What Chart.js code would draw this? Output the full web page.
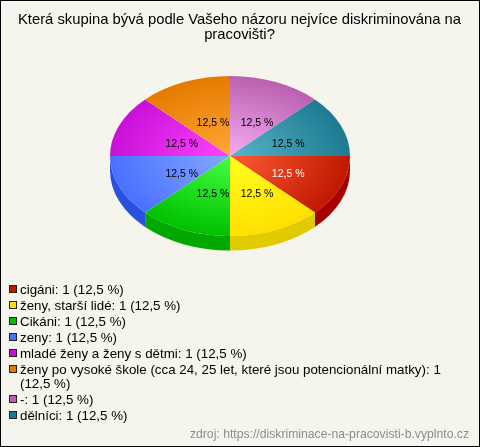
<!DOCTYPE html>
<html><head><meta charset="utf-8">
<style>html,body{margin:0;padding:0;background:#F5F5EE}canvas{display:block}</style>
<script src="https://cdn.jsdelivr.net/npm/chart.js@4"></script>
</head><body><canvas id="c" width="480" height="447" style="width:480px;height:447px"></canvas>
<script>
const titleLines = ["Která skupina bývá podle Vašeho názoru nejvíce diskriminována na", "pracovišti?"];
const categories = ["cigáni", "ženy, starší lidé", "Cikáni", "zeny", "mladé ženy a ženy s dětmi", "ženy po vysoké škole (cca 24, 25 let, které jsou potencionální matky)", "-", "dělníci"];
const counts = [1, 1, 1, 1, 1, 1, 1, 1];
const percentLabels = ["12,5 %", "12,5 %", "12,5 %", "12,5 %", "12,5 %", "12,5 %", "12,5 %", "12,5 %"];
const edgeColors = ["#C01800", "#FFE000", "#00C000", "#4A70FF", "#C810D8", "#E67A00", "#BB60B0", "#1E7A90"];
const centerColors = ["#FF5C34", "#FFFF20", "#44FF44", "#84A8FF", "#FF44FF", "#FFA834", "#F4ACF4", "#58B4C8"];
const sideColors = ["#A80000", "#E2CA00", "#00A800", "#2A50E0", "#A80000", "#A80000", "#A80000", "#A80000"];
const labelColors = ["#FFFFFF", "#000000", "#000000", "#000000", "#000000", "#000000", "#000000", "#000000"];
const sourceText = "zdroj: https://diskriminace-na-pracovisti-b.vyplnto.cz";
const FONT = "'Liberation Sans', Arial, sans-serif";
const SQUASH = 2 / 3, DEPTH = 14.5;

const pie3d = {
  id: "pie3d",
  beforeDraw(chart) {
    const c = chart.ctx;
    c.save();
    c.fillStyle = "#F5F5EE";
    c.fillRect(0, 0, chart.width, chart.height);
    c.fillStyle = "#000";
    c.font = "14.8px " + FONT;
    c.textAlign = "center";
    c.textBaseline = "middle";
    titleLines.forEach((t, i) => c.fillText(t, 239.5, 20 + i * 15));
    c.restore();
  },
  beforeDatasetsDraw(chart) {
    const c = chart.ctx, arcs = chart.getDatasetMeta(0).data;
    c.save();
    arcs.forEach((a, i) => {
      const s = Math.max(a.startAngle, 0), e = Math.min(a.endAngle, Math.PI);
      if (e <= s) return;
      c.beginPath();
      c.ellipse(a.x, a.y, a.outerRadius, a.outerRadius * SQUASH, 0, s, e);
      c.ellipse(a.x, a.y + DEPTH, a.outerRadius, a.outerRadius * SQUASH, 0, e, s, true);
      c.closePath();
      c.fillStyle = sideColors[i];
      c.fill();
    });
    c.restore();
    const a0 = arcs[0];
    c.save();
    c.translate(a0.x, a0.y);
    c.scale(1, SQUASH);
    c.translate(-a0.x, -a0.y);
  },
  afterDatasetsDraw(chart) {
    const c = chart.ctx, arcs = chart.getDatasetMeta(0).data;
    c.restore();
    c.save();
    c.font = "10.5px " + FONT;
    c.textAlign = "center";
    c.textBaseline = "middle";
    arcs.forEach((a, i) => {
      const m = (a.startAngle + a.endAngle) / 2, r = a.outerRadius * 0.48;
      c.fillStyle = labelColors[i];
      c.fillText(percentLabels[i], a.x + r * Math.cos(m) + 5, a.y + r * SQUASH * Math.sin(m) + 3);
    });
    c.restore();
  },
  afterDraw(chart) {
    const c = chart.ctx;
    const total = counts.reduce((p, v) => p + v, 0);
    c.save();
    c.font = "13.33px " + FONT;
    c.textBaseline = "middle";
    c.textAlign = "left";
    let y = 290;
    categories.forEach((name, i) => {
      c.fillStyle = edgeColors[i];
      c.fillRect(9.5, y - 4.5, 7, 7);
      c.strokeStyle = "#222";
      c.lineWidth = 1;
      c.strokeRect(9.5, y - 4.5, 7, 7);
      c.fillStyle = "#000";
      const pct = (counts[i] / total * 100).toFixed(1).replace(".", ",") + " %";
      const full = name + ": " + counts[i] + " (" + pct + ")";
      if (c.measureText(full).width > 440) {
        const cut = full.lastIndexOf(" (");
        c.fillText(full.slice(0, cut), 20, y);
        y += 14;
        c.fillText(full.slice(cut + 1), 20, y);
      } else {
        c.fillText(full, 20, y);
      }
      y += 16;
    });
    c.font = "12.2px " + FONT;
    c.fillStyle = "#8C8C8C";
    c.textAlign = "right";
    c.fillText(sourceText, 469, 435);
    c.strokeStyle = "#000";
    c.lineWidth = 1;
    c.strokeRect(0.5, 0.5, chart.width - 1, chart.height - 1);
    c.restore();
  }
};

new Chart(document.getElementById("c"), {
  type: "pie",
  data: {
    labels: categories,
    datasets: [{
      data: counts,
      borderWidth: 0,
      backgroundColor(ctx) {
        const area = ctx.chart.chartArea, i = ctx.dataIndex;
        if (!area) return edgeColors[i];
        const cx = (area.left + area.right) / 2, cy = (area.top + area.bottom) / 2, r = area.width / 2;
        const g = ctx.chart.ctx.createRadialGradient(cx, cy, 0, cx, cy, r);
        g.addColorStop(0, centerColors[i]);
        g.addColorStop(1, edgeColors[i]);
        return g;
      }
    }]
  },
  options: {
    responsive: false,
    devicePixelRatio: 1,
    animation: false,
    rotation: 90,
    layout: { padding: { left: 110, right: 130, top: 36, bottom: 171 } },
    plugins: {
      legend: { display: false },
      tooltip: { enabled: false },
      title: { display: false }
    }
  },
  plugins: [pie3d]
});
</script></body></html>
